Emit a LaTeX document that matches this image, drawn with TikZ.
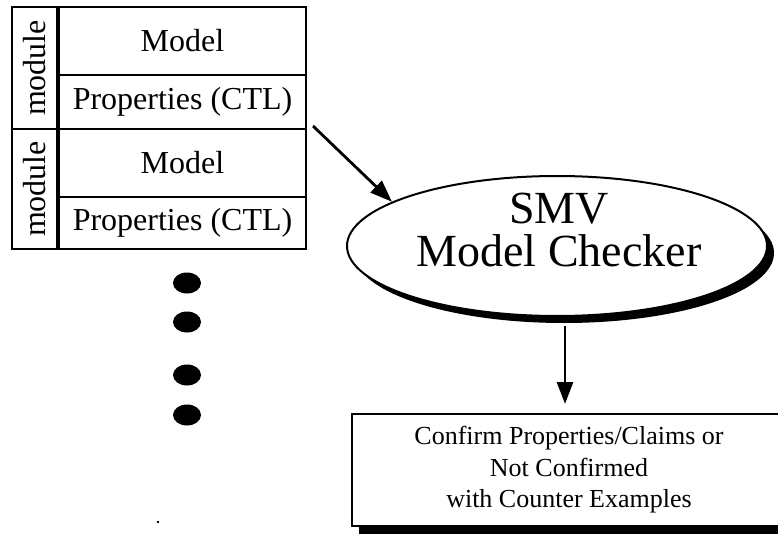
\documentclass[tikz,border=0pt]{standalone}
\usepackage{fontspec}
\setmainfont{Liberation Serif}
\usetikzlibrary{shapes.geometric,shadows,arrows.meta}
\tikzset{
  part/.style={draw, line width=2pt, inner sep=0pt, font=\fontsize{32}{36}\selectfont},
  arr/.style={line width=2.8pt, -{Triangle[width=16pt,length=22pt]}},
  shade/.style={drop shadow={shadow xshift=7pt, shadow yshift=-7pt, opacity=1, fill=black}},
}
\begin{document}
\begin{tikzpicture}[x=1pt,y=-1pt]
\clip (0,0) rectangle (778,537);
\node[part, minimum width=247pt, minimum height=68pt] (model1) at (182.5,41) {Model};
\node[part, minimum width=247pt, minimum height=54pt] (props1) at (182.5,102) {Properties (CTL)};
\node[part, minimum width=247pt, minimum height=68pt] (model2) at (182.5,163) {Model};
\node[part, minimum width=247pt, minimum height=52pt] (props2) at (182.5,223) {Properties (CTL)};
\node[part, rotate=90, minimum width=122pt, minimum height=45pt] (module1) at (34.5,68) {module};
\node[part, rotate=90, minimum width=120pt, minimum height=45pt] (module2) at (34.5,189) {module};
\foreach \y in {283,322,375,415}
{   \fill (187,\y) ellipse (14 and 10.5);
}
\fill (158,522) circle (1.3);
\node[draw, ellipse, fill=white, line width=2pt, inner sep=0pt,
      minimum width=420pt, minimum height=140pt, shade] (smv) at (557,246) {};
\node[align=center, font=\fontsize{46}{43}\selectfont] (smvtext) at (559,230) {SMV\\Model Checker};
\node[draw, fill=white, line width=2pt, inner sep=0pt, align=center,
      minimum width=434pt, minimum height=112pt,
      drop shadow={shadow xshift=7pt, shadow yshift=-8pt, opacity=1, fill=black},
      font=\fontsize{26}{31.5}\selectfont] (result) at (569,470)
      {Confirm Properties/Claims or\\Not Confirmed\\with Counter Examples};
\coordinate (below) at ([xshift=-4pt]smv.south -| result.north);
\draw[arr] ([xshift=6pt,yshift=4pt]props1.south east) -- (smv.165);
\draw[arr] ([yshift=-9pt]below) -- ([xshift=-4pt,yshift=9pt]result.north);
\end{tikzpicture}
\end{document}
